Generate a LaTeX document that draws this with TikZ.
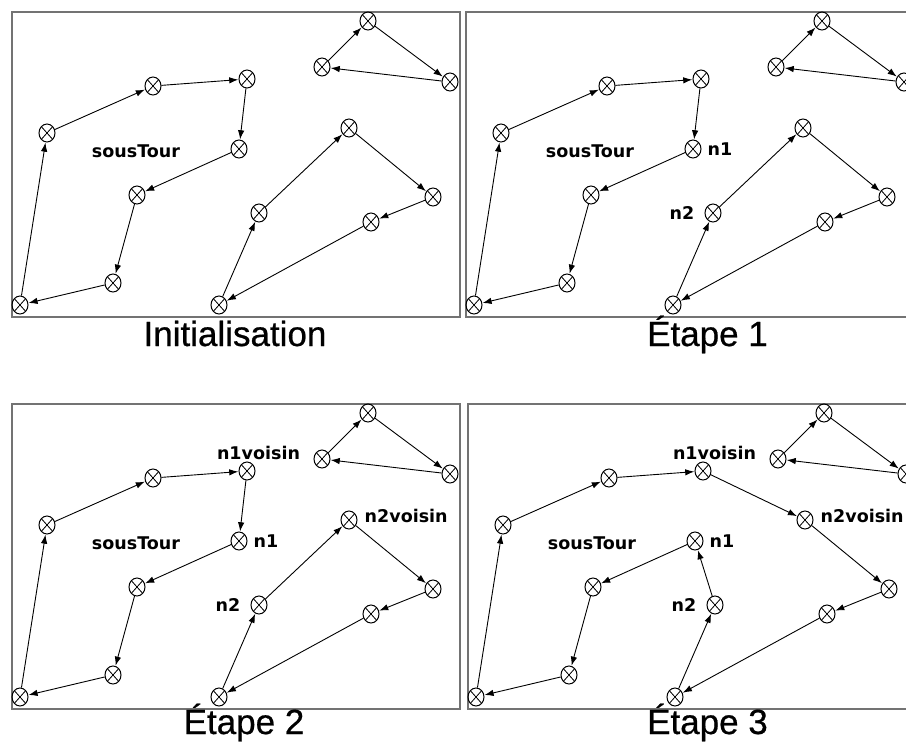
\documentclass[tikz,border=0pt]{standalone}
\usepackage{fontspec}
\setmainfont{Liberation Sans}
\newfontfamily\lblfont{DejaVu Sans}
\newfontfamily\ttlfont[FakeBold=0.6]{Liberation Sans}
\usetikzlibrary{arrows.meta,shapes.geometric}
\tikzset{
  pt/.style={ellipse, draw, line width=1pt, minimum width=16pt, minimum height=18pt, inner sep=0pt,
    path picture={\draw[line width=0.8pt] (path picture bounding box.north west) -- (path picture bounding box.south east)
      (path picture bounding box.north east) -- (path picture bounding box.south west);}},
  tour/.style={-{Latex[length=9pt,width=6.5pt]}, line width=0.9pt, shorten >=0.3pt},
  lbl/.style={font=\lblfont\bfseries\fontsize{17.5}{20}\selectfont, inner sep=0pt},
  ttl/.style={font=\ttlfont\fontsize{35}{40}\selectfont, inner sep=0pt, anchor=base},
  frame/.style={draw=black!55, line width=1.3pt}
}
\newcommand\tournodes{%
  \draw[frame] (12,12) rectangle (460,317);
  \node[pt] (A) at (20,305) {};
  \node[pt] (B) at (47,133) {};
  \node[pt] (C) at (153,86) {};
  \node[pt] (D) at (247,79) {};
  \node[pt] (E) at (239,149) {};
  \node[pt] (F) at (137,195) {};
  \node[pt] (G) at (113,283) {};
  \node[pt] (H) at (219,305) {};
  \node[pt] (I) at (259,213) {};
  \node[pt] (J) at (349,128) {};
  \node[pt] (K) at (433,197) {};
  \node[pt] (L) at (371,222) {};
  \node[pt] (P) at (368,21) {};
  \node[pt] (Q) at (322,67) {};
  \node[pt] (R) at (450,82) {};
  \node[lbl] (st) at (136,151) {sousTour};
  \draw[tour] (A) -- (B);
  \draw[tour] (B) -- (C);
  \draw[tour] (C) -- (D);
  \draw[tour] (F) -- (G);
  \draw[tour] (G) -- (A);
  \draw[tour] (E) -- (F);
  \draw[tour] (J) -- (K);
  \draw[tour] (K) -- (L);
  \draw[tour] (L) -- (H);
  \draw[tour] (H) -- (I);
  \draw[tour] (Q) -- (P);
  \draw[tour] (P) -- (R);
  \draw[tour] (R) -- (Q);
}
\newcommand\nlabels{%
  \node[lbl, anchor=west] (n1) at ([xshift=6pt]E.east) {n1};
  \node[lbl, anchor=east] (n2) at ([xshift=-10pt]I.west) {n2};
}
\newcommand\vlabels{%
  \node[lbl, anchor=base] (n1v) at ([xshift=11.5pt,yshift=2.5pt]D.north) {n1voisin};
  \node[lbl, anchor=base west] (n2v) at ([xshift=7pt,yshift=-2.5pt]J.east) {n2voisin};
}
\begin{document}
\begin{tikzpicture}[x=1pt,y=-1pt]
\useasboundingbox (0,0) rectangle (906,742);
\clip (0,0) rectangle (906,742);
\fill[white] (0,0) rectangle (906,742);
% Initialisation
\begin{scope}[name prefix=a-]
  \tournodes
  \draw[tour] (D) -- (E);
  \draw[tour] (I) -- (J);
\end{scope}
% Etape 1
\begin{scope}[shift={(454,0)}, name prefix=b-]
  \tournodes
  \draw[tour] (D) -- (E);
  \draw[tour] (I) -- (J);
  \nlabels
\end{scope}
% Etape 2
\begin{scope}[shift={(0,392)}, name prefix=c-]
  \tournodes
  \draw[tour] (D) -- (E);
  \draw[tour] (I) -- (J);
  \nlabels
  \vlabels
\end{scope}
% Etape 3
\begin{scope}[shift={(456,392)}, name prefix=d-]
  \tournodes
  \draw[tour] (D) -- (J);
  \draw[tour] (I) -- (E);
  \nlabels
  \vlabels
\end{scope}
\node[ttl] (t0) at (235,346) {Initialisation};
\node[ttl] (t1) at (707.5,346) {Étape 1};
\node[ttl] (t2) at (244,734) {Étape 2};
\node[ttl] (t3) at (707.5,734) {Étape 3};
\end{tikzpicture}
\end{document}
